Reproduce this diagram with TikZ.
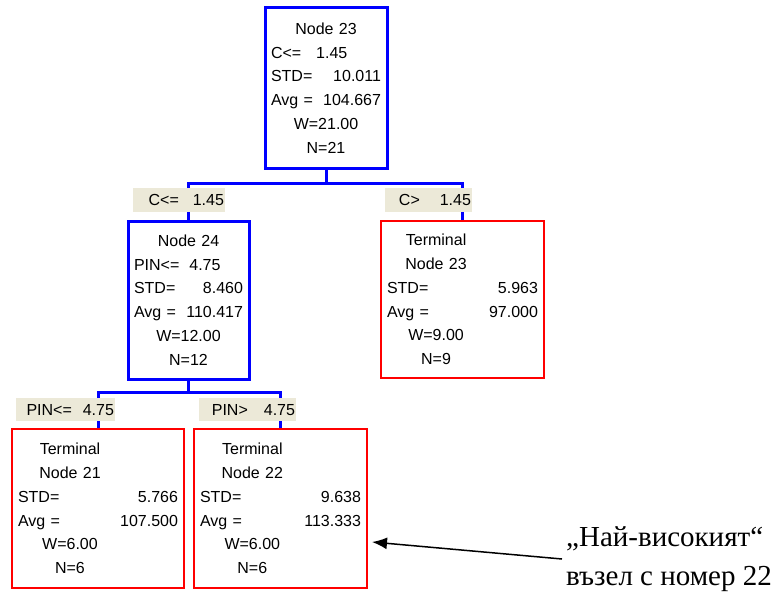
\documentclass[tikz,border=0pt]{standalone}
\usepackage{fontspec}
\setmainfont{Liberation Sans}
\newfontfamily\notefont{Liberation Serif}
\usetikzlibrary{positioning,arrows.meta}
\definecolor{splitblue}{RGB}{0,0,255}
\definecolor{leafred}{RGB}{255,0,0}
\definecolor{condbeige}{RGB}{236,233,216}
\newcommand{\rowlr}[2]{\makebox[\hsize]{#1\hfill#2}}
\newcommand{\rowleft}[1]{\makebox[\hsize][l]{#1}}
\newcommand{\rowcol}[1]{\makebox[\hsize][l]{\makebox[.65\hsize]{#1}}}
\tikzstyle{box}=[draw,align=center,inner xsep=6pt,inner ysep=0pt,
  font=\fontsize{16}{23.7}\selectfont]
\tikzstyle{split}=[box,draw=splitblue,line width=3pt]
\tikzstyle{leaf}=[box,draw=leafred,line width=1.5pt]
\tikzstyle{cond}=[fill=condbeige,align=right,inner xsep=1pt,inner ysep=0pt,
  font=\fontsize{16}{20}\selectfont]
\tikzstyle{branch}=[draw=splitblue,line width=3pt]
\tikzstyle{pointer}=[-{Latex[length=15pt,width=12pt]},line width=1.5pt]

\begin{document}
\begin{tikzpicture}[x=1pt, y=-1pt, on grid]
  \useasboundingbox (0,0) rectangle (776,594);
  % tree boxes
  \node[split, text width=110pt, minimum height=160pt] (n23) at (326,88)
  {Node 23\\ \rowleft{C<=\hspace{15pt}1.45}\\ \rowlr{STD=}{10.011}\\
    \rowlr{Avg =}{104.667}\\ W=21.00\\ N=21};
  \node[split, text width=109pt, minimum height=158pt,
    below left=212pt and 137.5pt of n23] (n24)
  {Node 24\\ \rowleft{PIN<=\hspace{10pt}4.75}\\ \rowlr{STD=}{8.460}\\
    \rowlr{Avg =}{110.417}\\ W=12.00\\ N=12};
  \node[leaf, text width=151pt, minimum height=157pt,
    below right=211.5pt and 136.5pt of n23] (t23)
  {\rowcol{Terminal}\\ \rowcol{Node 23}\\ \rowlr{STD=}{5.963}\\
    \rowlr{Avg =}{97.000}\\ \rowcol{W=9.00}\\ \rowcol{N=9}};
  \node[leaf, text width=160pt, minimum height=159pt,
    below left=208.5pt and 90.5pt of n24] (t21)
  {\rowcol{Terminal}\\ \rowcol{Node 21}\\ \rowlr{STD=}{5.766}\\
    \rowlr{Avg =}{107.500}\\ \rowcol{W=6.00}\\ \rowcol{N=6}};
  \node[leaf, text width=161pt, minimum height=159pt,
    below right=208.5pt and 92pt of n24] (t22)
  {\rowcol{Terminal}\\ \rowcol{Node 22}\\ \rowlr{STD=}{9.638}\\
    \rowlr{Avg =}{113.333}\\ \rowcol{W=6.00}\\ \rowcol{N=6}};

  % branches
  \draw[branch] (n23.south) -- ++(0,14) -| (n24.north);
  \draw[branch] (n23.south) ++(0,14) -| (t23.north);
  \draw[branch] (n24.south) -- ++(0,12) -| (t21.north);
  \draw[branch] (n24.south) ++(0,12) -| (t22.north);

  % split conditions
  \node[cond, text width=90pt, minimum height=24pt]
    (c24) at ([xshift=-9.5pt,yshift=20pt]n24.north) {C<=\hspace{14pt}1.45};
  \node[cond, text width=85pt, minimum height=24pt]
    (ct23) at ([xshift=-34pt,yshift=20pt]t23.north) {C>\hspace{20pt}1.45};
  \node[cond, text width=97pt, minimum height=23pt]
    (ct21) at ([xshift=-32.5pt,yshift=18.5pt]t21.north) {PIN<=\hspace{11pt}4.75};
  \node[cond, text width=95pt, minimum height=23pt]
    (ct22) at ([xshift=-33pt,yshift=18.5pt]t22.north) {PIN>\hspace{16pt}4.75};

  % remark
  \node[font=\notefont\fontsize{29}{39}\selectfont, align=left, anchor=west,
    inner sep=4pt] (note) at (562,559) {„Най-високият“\\възел с номер 22};
  \coordinate (tip) at (372,542);
  \draw[pointer] (note.west) -- (tip);
\end{tikzpicture}
\end{document}
